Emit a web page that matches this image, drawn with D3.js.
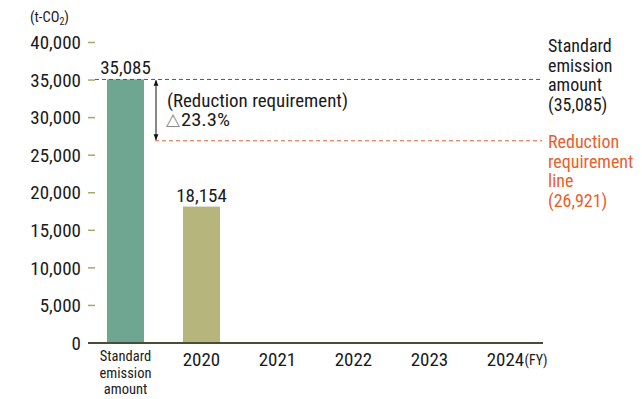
<!DOCTYPE html>
<html>
<head>
<meta charset="utf-8">
<script src="https://cdn.jsdelivr.net/npm/d3@7/dist/d3.min.js"></script>
<style>
  html, body { margin: 0; padding: 0; background: #fff; }
  svg { display: block; }
  text { font-family: "Liberation Sans Narrow", "Roboto Condensed", "DejaVu Sans Condensed", "Arial Narrow", sans-serif; font-stretch: condensed; fill: #1a1a1a; }
</style>
</head>
<body>
<svg id="chart" width="642" height="399"></svg>
<script>
// Emissions by fiscal year (t-CO2)
const categories = ["Standard emission amount", "2020", "2021", "2022", "2023", "2024"];
const values = [35085, 18154, null, null, null, null];
const barColors = ["#6ea691", "#b5b57c"];
const yTicks = [0, 5000, 10000, 15000, 20000, 25000, 30000, 35000, 40000];
const standardAmount = 35085;
const requirementLine = 26921;
const reductionRate = "23.3%";

const svg = d3.select("#chart");
const fmt = d3.format(",");

const x = d3.scaleBand()
  .domain(categories)
  .range([87.5, 543.5])
  .paddingInner(0.513)
  .paddingOuter(0.2565);

const y = d3.scaleLinear()
  .domain([0, 40000])
  .range([343, 42.5]);

// unit label
const unit = svg.append("text").attr("x", 30).attr("y", 22).style("font-size", "14.5px");
unit.append("tspan").text("(t-CO");
unit.append("tspan").text("2").style("font-size", "10px").attr("dy", 3);
unit.append("tspan").text(")").attr("dy", -3);

// y axis: short tick marks and labels
const yAxis = svg.append("g");
yAxis.selectAll("line").data(yTicks.filter(d => d > 0)).join("line")
  .attr("x1", 88).attr("x2", 95)
  .attr("y1", d => y(d)).attr("y2", d => y(d))
  .attr("stroke", "#a9a66e").attr("stroke-width", 1.5);
yAxis.selectAll("text").data(yTicks).join("text")
  .attr("x", 81).attr("y", d => y(d)).attr("dy", "0.35em")
  .attr("text-anchor", "end")
  .style("font-size", "19px")
  .text(d => fmt(d));

// bars
const bars = categories.map((c, i) => ({ c, v: values[i], i })).filter(d => d.v != null);
svg.selectAll("rect.bar").data(bars).join("rect")
  .attr("class", "bar")
  .attr("x", d => x(d.c))
  .attr("width", x.bandwidth())
  .attr("y", d => y(d.v))
  .attr("height", d => y(0) - y(d.v))
  .attr("fill", d => barColors[d.i]);

// value labels
svg.selectAll("text.val").data(bars).join("text")
  .attr("class", "val")
  .attr("x", d => x(d.c) + x.bandwidth() / 2)
  .attr("y", d => y(d.v) - 5)
  .attr("text-anchor", "middle")
  .style("font-size", "19px")
  .text(d => fmt(d.v));

// baseline
svg.append("line")
  .attr("x1", 88).attr("x2", 543)
  .attr("y1", y(0)).attr("y2", y(0))
  .attr("stroke", "#4b4c38").attr("stroke-width", 2);

// category labels
const xl = svg.append("g");
categories.forEach((c, i) => {
  const cx = x(c) + x.bandwidth() / 2;
  if (i === 0) {
    ["Standard", "emission", "amount"].forEach((w, k) => {
      xl.append("text").attr("x", cx).attr("y", 361 + k * 16.5)
        .attr("text-anchor", "middle").style("font-size", "14.5px").text(w);
    });
  } else {
    xl.append("text").attr("x", cx).attr("y", 366)
      .attr("text-anchor", "middle").style("font-size", "19px").text(c);
  }
});
xl.append("text")
  .attr("x", x("2024") + x.bandwidth() / 2 + 19).attr("y", 365)
  .style("font-size", "14px").text("(FY)");

// reference lines
svg.append("line")
  .attr("x1", 95).attr("x2", 542)
  .attr("y1", y(standardAmount)).attr("y2", y(standardAmount))
  .attr("stroke", "#555").attr("stroke-width", 1).attr("stroke-dasharray", "4,3");
svg.append("line")
  .attr("x1", 155).attr("x2", 542)
  .attr("y1", y(requirementLine)).attr("y2", y(requirementLine))
  .attr("stroke", "#e8602c").attr("stroke-width", 1).attr("stroke-dasharray", "4,3");

// reduction arrow
const defs = svg.append("defs");
defs.append("marker").attr("id", "ah").attr("viewBox", "0 0 10 10")
  .attr("refX", 9).attr("refY", 5).attr("markerWidth", 6).attr("markerHeight", 8)
  .attr("orient", "auto-start-reverse")
  .append("path").attr("d", "M0,1 L10,5 L0,9 Z").attr("fill", "#111");
svg.append("line")
  .attr("x1", 156).attr("x2", 156)
  .attr("y1", y(standardAmount) + 1).attr("y2", y(requirementLine) - 1)
  .attr("stroke", "#111").attr("stroke-width", 1)
  .attr("marker-start", "url(#ah)").attr("marker-end", "url(#ah)");

svg.append("text").attr("x", 167).attr("y", 107).style("font-size", "18px")
  .attr("textLength", 181).attr("lengthAdjust", "spacingAndGlyphs")
  .text("(Reduction requirement)");
svg.append("text").attr("x", 166).attr("y", 125).style("font-size", "17px")
  .style("fill", "#888").attr("textLength", 14).attr("lengthAdjust", "spacingAndGlyphs")
  .text("\u25B3");
svg.append("text").attr("x", 181).attr("y", 126).style("font-size", "18.5px")
  .attr("textLength", 49).attr("lengthAdjust", "spacingAndGlyphs")
  .text(reductionRate);

// right-hand labels
["Standard", "emission", "amount", "(" + fmt(standardAmount) + ")"].forEach((w, k) => {
  svg.append("text").attr("x", 548).attr("y", 52 + k * 19.5)
    .style("font-size", "18px").text(w);
});
["Reduction", "requirement", "line", "(" + fmt(requirementLine) + ")"].forEach((w, k) => {
  svg.append("text").attr("x", 548).attr("y", 148 + k * 19.5)
    .style("font-size", "18px").style("fill", "#e8602c").text(w);
});
</script>
</body>
</html>
